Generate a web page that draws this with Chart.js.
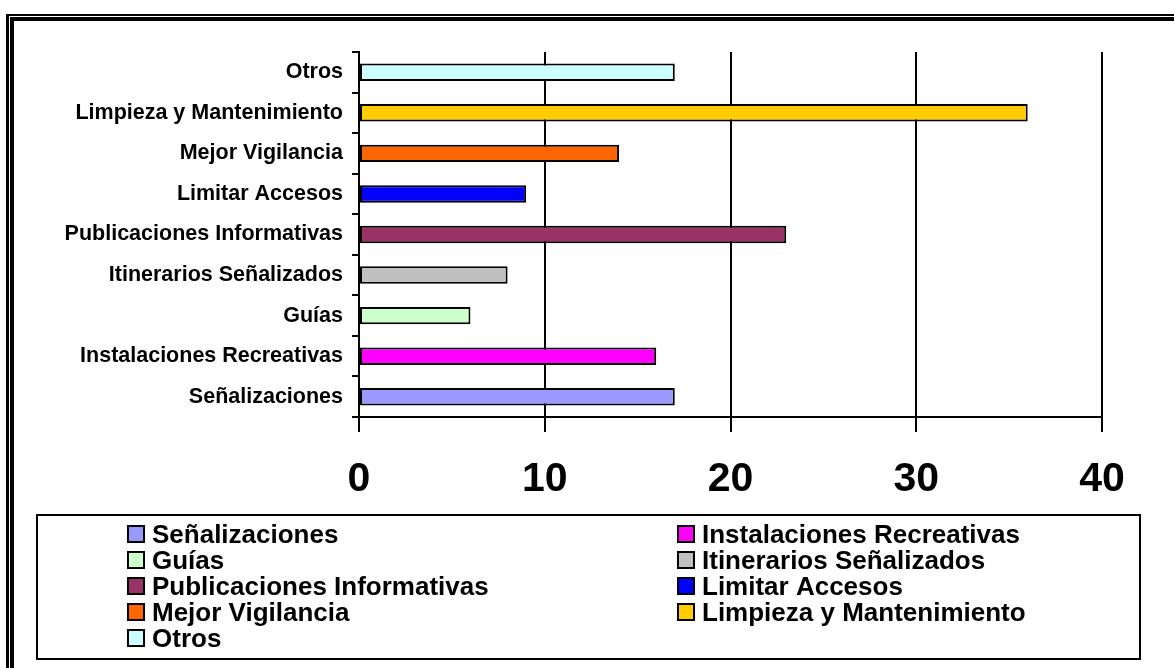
<!DOCTYPE html>
<html lang="es">
<head>
    <meta charset="UTF-8">
    <title>Sugerencias</title>
    <script src="https://cdn.jsdelivr.net/npm/chart.js"></script>
    <style>
        html, body { margin: 0; padding: 0; background: #fff; }
        #wrap { width: 1174px; height: 668px; position: relative; }
    </style>
</head>
<body>
    <div id="wrap"><canvas id="barChart"></canvas></div>

    <script>
        // categories in legend order (first one is drawn at the bottom)
        const categories = [
            'Señalizaciones',
            'Instalaciones Recreativas',
            'Guías',
            'Itinerarios Señalizados',
            'Publicaciones Informativas',
            'Limitar Accesos',
            'Mejor Vigilancia',
            'Limpieza y Mantenimiento',
            'Otros'
        ];
        const values = [17, 16, 6, 8, 23, 9, 14, 36, 17];
        const barColors = [
            '#9999FF', '#FF00FF', '#CCFFCC', '#C0C0C0', '#993366',
            '#0000FF', '#FF6600', '#FFCC00', '#CCFFFF'
        ];
        const xTicks = [0, 10, 20, 30, 40];

        const FONT = "Arial, 'Liberation Sans', sans-serif";

        // double frame + legend box, drawn like the old spreadsheet picture
        const framePlugin = {
            id: 'frame',
            beforeDraw(chart) {
                const c = chart.ctx;
                c.save();
                c.fillStyle = '#000';
                c.fillRect(6, 14, 1174, 2);   // outer top
                c.fillRect(6, 14, 3, 668);    // outer left
                c.fillRect(10, 17, 1174, 4);  // inner top
                c.fillRect(10, 17, 4, 668);   // inner left
                c.restore();
            },
            afterDraw(chart) {
                const c = chart.ctx;
                c.save();
                c.strokeStyle = '#000';
                c.lineWidth = 2;
                c.strokeRect(37, 515, 1103, 144);

                c.font = 'bold 26px ' + FONT;
                c.textBaseline = 'alphabetic';
                categories.forEach((name, i) => {
                    const col = i % 2;
                    const row = Math.floor(i / 2);
                    const x = col === 0 ? 127 : 677;
                    const y = 525 + row * 26;
                    c.fillStyle = barColors[i];
                    c.fillRect(x, y, 18, 18);
                    c.lineWidth = 2;
                    c.strokeStyle = '#000';
                    c.strokeRect(x + 1, y + 1, 16, 16);
                    c.fillStyle = '#000';
                    c.fillText(name, x + 25, y + 18);
                });
                c.restore();
            }
        };

        const ctx = document.getElementById('barChart').getContext('2d');

        new Chart(ctx, {
            type: 'bar',
            data: {
                labels: categories,
                datasets: [{
                    data: values,
                    backgroundColor: barColors,
                    borderColor: '#000',
                    borderWidth: 2,
                    borderSkipped: false,
                    barPercentage: 0.43,
                    categoryPercentage: 1
                }]
            },
            options: {
                indexAxis: 'y',
                responsive: true,
                maintainAspectRatio: false,
                animation: false,
                layout: { padding: { top: 52, right: 72, left: 0, bottom: 0 } },
                plugins: {
                    legend: { display: false },
                    tooltip: { enabled: false }
                },
                scales: {
                    x: {
                        min: 0,
                        max: 40,
                        afterBuildTicks: (axis) => { axis.ticks = xTicks.map(v => ({ value: v })); },
                        afterFit: (axis) => { axis.height = 251; },
                        grid: { color: '#000', lineWidth: 2, tickLength: 15 },
                        border: { display: true, color: '#000', width: 2 },
                        ticks: {
                            color: '#000',
                            padding: 23,
                            maxRotation: 0,
                            font: { family: FONT, size: 41, weight: 'bold' }
                        }
                    },
                    y: {
                        reverse: true,
                        afterFit: (axis) => { axis.width = 359; },
                        grid: {
                            color: '#000',
                            lineWidth: 2,
                            tickLength: 7,
                            drawOnChartArea: false,
                            offset: true
                        },
                        border: { display: true, color: '#000', width: 2 },
                        ticks: {
                            color: '#000',
                            padding: 9,
                            font: { family: FONT, size: 21.5, weight: 'bold' }
                        }
                    }
                }
            },
            plugins: [framePlugin]
        });
    </script>
</body>
</html>
